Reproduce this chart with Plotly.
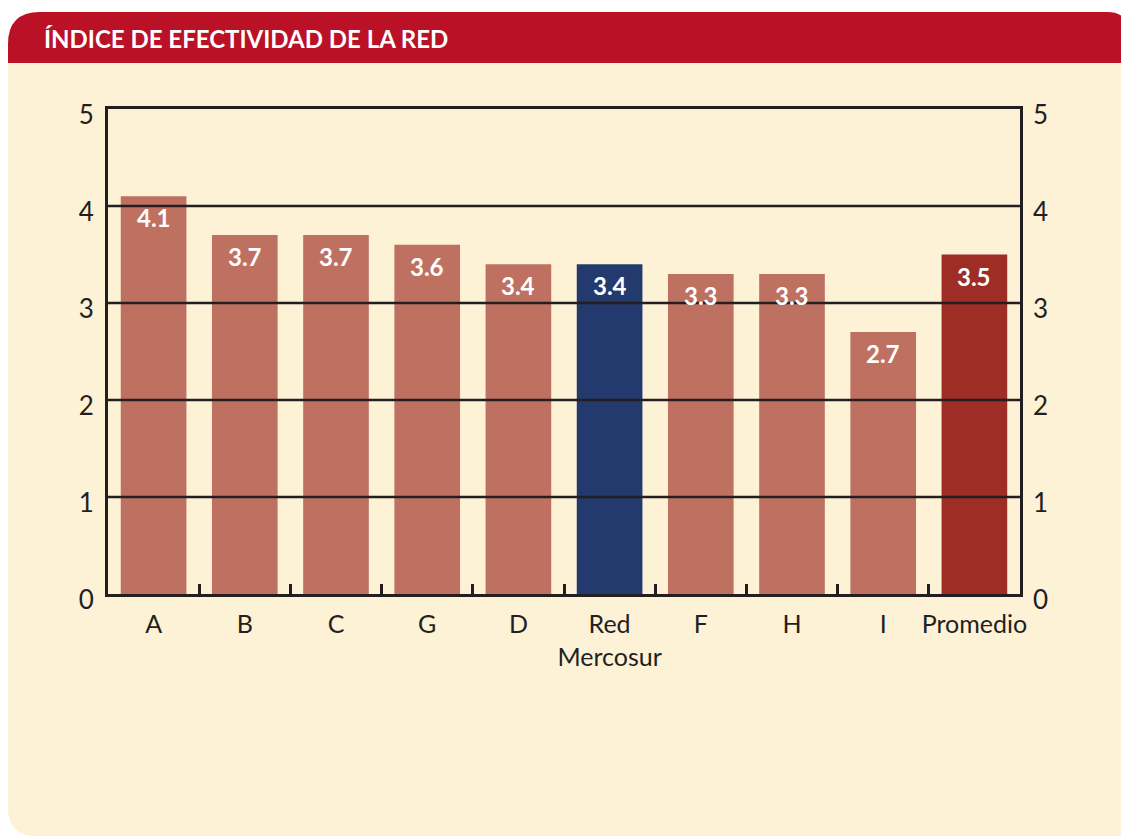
import plotly.graph_objects as go

# data
categories = ["A", "B", "C", "G", "D", "Red<br>Mercosur", "F", "H", "I", "Promedio"]
values = [4.1, 3.7, 3.7, 3.6, 3.4, 3.4, 3.3, 3.3, 2.7, 3.5]
value_labels = ["4.1", "3.7", "3.7", "3.6", "3.4", "3.4", "3.3", "3.3", "2.7", "3.5"]
y_ticks = [0, 1, 2, 3, 4, 5]
title_text = "ÍNDICE DE EFECTIVIDAD DE LA RED"

# colours
BAR = "#BF7161"
BLUE = "#233A6F"
AVG = "#9E2D25"
INK = "#231F20"
BEIGE = "#FDF1D6"
RED = "#BA1126"
FONT = "Lato"

bar_colors = [BAR] * len(values)
bar_colors[5] = BLUE
bar_colors[-1] = AVG

# figure geometry (pixels, page is offset 8px by the body margin)
OFF = 8
FIG_W, FIG_H = 1129 - OFF, 836 - OFF
PL, PR, PT, PB = 108 - OFF, 1020 - OFF, 109 - OFF, 594 - OFF


def fx(p):
    return (p - OFF - PL) / (PR - PL)


def fy(p):
    return (PB - (p - OFF)) / (PB - PT)


def path(points):
    """points in screen pixels: ('M'|'L', x, y) or ('Q', cx, cy, x, y)."""
    out = []
    for pt in points:
        if pt[0] == "Q":
            out.append(f"Q{fx(pt[1])},{fy(pt[2])} {fx(pt[3])},{fy(pt[4])}")
        else:
            out.append(f"{pt[0]}{fx(pt[1])},{fy(pt[2])}")
    return " ".join(out) + " Z"


fig = go.Figure()

fig.add_trace(go.Bar(
    x=categories,
    y=values,
    marker=dict(color=bar_colors, line=dict(width=0)),
    hoverinfo="x+y",
    showlegend=False,
))

# invisible trace so the right-hand axis is drawn
fig.add_trace(go.Scatter(
    x=categories, y=values, yaxis="y2", mode="markers",
    marker=dict(opacity=0), hoverinfo="skip", showlegend=False,
))

shapes = [
    # beige card
    dict(type="path", xref="paper", yref="paper", layer="below",
         path=path([("M", 8, 40), ("L", 8, 808), ("Q", 8, 836, 36, 836),
                    ("L", 1140, 836), ("L", 1140, 40)]),
         fillcolor=BEIGE, line=dict(width=0)),
    # red header
    dict(type="path", xref="paper", yref="paper", layer="below",
         path=path([("M", 8, 63), ("L", 8, 44), ("Q", 8, 12, 40, 12),
                    ("L", 1107, 12), ("Q", 1129, 12, 1129, 34), ("L", 1129, 63)]),
         fillcolor=RED, line=dict(width=0)),
]

# horizontal grid lines drawn over the bars
for t in y_ticks[1:-1]:
    shapes.append(dict(type="line", xref="paper", yref="y", layer="above",
                       x0=0, x1=1, y0=t, y1=t, line=dict(color=INK, width=2.5)))

annotations = [
    dict(text=f"<b>{title_text}</b>", xref="paper", yref="paper",
         x=fx(42), y=fy(38), xanchor="left", yanchor="middle", showarrow=False,
         font=dict(family=FONT, size=24, color="white")),
]
for c, v, lab in zip(categories, values, value_labels):
    annotations.append(dict(
        x=c, y=v, xref="x", yref="y", text=lab, showarrow=False,
        yanchor="top", yshift=-5,
        font=dict(family=FONT, size=24, color="white", weight="bold"),
    ))

fig.update_layout(
    width=FIG_W, height=FIG_H,
    margin=dict(l=PL, r=FIG_W - PR, t=PT, b=FIG_H - PB, pad=0),
    paper_bgcolor="white",
    plot_bgcolor="rgba(0,0,0,0)",
    bargap=0.28,
    font=dict(family=FONT, size=25, color=INK),
    shapes=shapes,
    annotations=annotations,
    xaxis=dict(
        range=[-0.5, len(categories) - 0.5], tickangle=0,
        showline=True, linecolor=INK, linewidth=3, mirror=True,
        ticks="inside", tickson="boundaries", ticklen=10, tickwidth=2.5,
        tickcolor=INK, showgrid=False, tickfont=dict(size=25, color=INK),
        ticklabelstandoff=6, layer="above traces",
    ),
    yaxis=dict(
        range=[0, 5], tickvals=y_ticks, showgrid=False, zeroline=False,
        showline=True, linecolor=INK, linewidth=3, mirror=True,
        ticks="", ticklabelstandoff=6, ticklabelshift=6,
        tickfont=dict(size=26, color=INK), layer="above traces",
    ),
    yaxis2=dict(
        range=[0, 5], tickvals=y_ticks, overlaying="y", side="right",
        showgrid=False, zeroline=False, showline=False, ticks="",
        ticklabelstandoff=12, ticklabelshift=6,
        tickfont=dict(size=26, color=INK),
    ),
)

fig.write_html("out.html")
